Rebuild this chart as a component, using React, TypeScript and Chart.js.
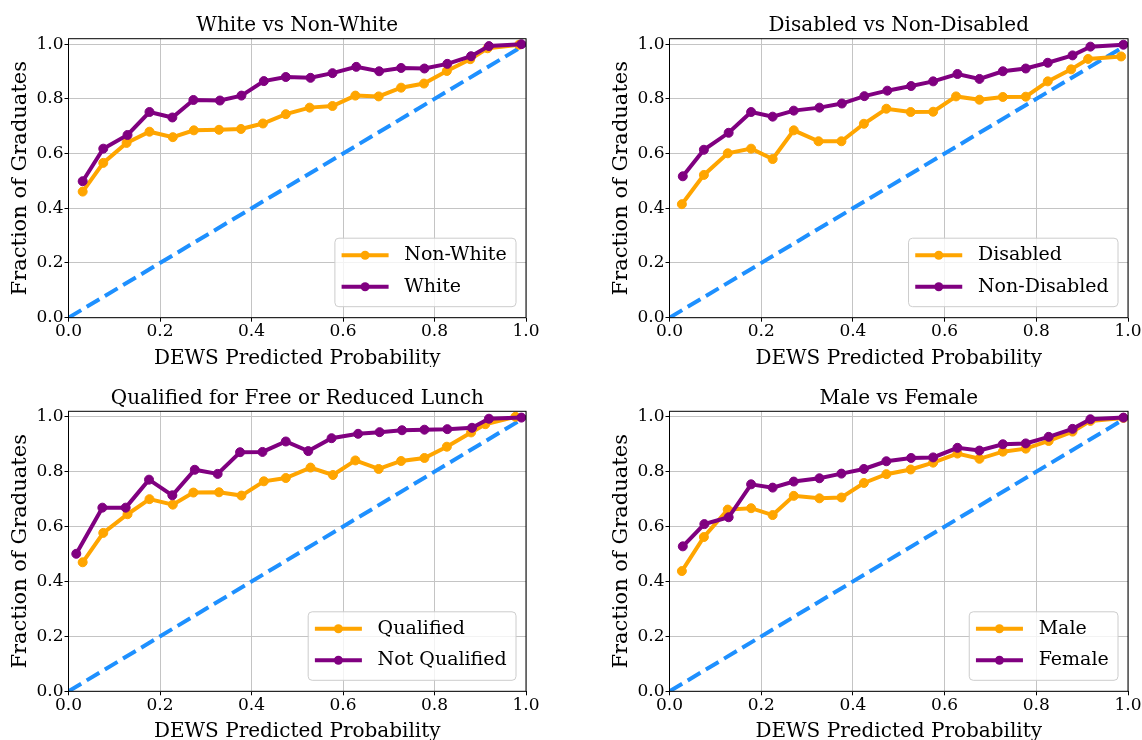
import React, { useEffect, useRef } from "react";
import { Chart, registerables } from "chart.js";

Chart.register(...registerables);

const FONT = '"DejaVu Serif", serif';
const ORANGE = "#FFA500";
const PURPLE = "#800080";
const BLUE = "#1E90FF";
const GRID = "#c4c4c4";

const X_TICKS = [0, 0.2, 0.4, 0.6, 0.8, 1.0];
const Y_TICKS = [0, 0.2, 0.4, 0.6, 0.8, 1.0];
const X_LABEL = "DEWS Predicted Probability";
const Y_LABEL = "Fraction of Graduates";
const DIAG_X = [0, 1];
const DIAG_Y = [0, 1];

// Panel 1: White vs Non-White
const nonWhiteX = [0.031, 0.076, 0.127, 0.177, 0.228, 0.274, 0.329, 0.377, 0.425, 0.475, 0.527, 0.577, 0.627, 0.678, 0.727, 0.777, 0.827, 0.878, 0.916, 0.985];
const nonWhiteY = [0.461, 0.566, 0.639, 0.68, 0.66, 0.685, 0.687, 0.69, 0.71, 0.744, 0.768, 0.774, 0.812, 0.809, 0.841, 0.856, 0.902, 0.945, 0.985, 0.998];
const whiteX = [0.031, 0.076, 0.129, 0.177, 0.227, 0.273, 0.331, 0.378, 0.427, 0.475, 0.529, 0.577, 0.629, 0.679, 0.727, 0.778, 0.828, 0.88, 0.919, 0.99];
const whiteY = [0.499, 0.618, 0.668, 0.752, 0.732, 0.796, 0.794, 0.812, 0.865, 0.88, 0.877, 0.894, 0.917, 0.901, 0.913, 0.911, 0.928, 0.956, 0.993, 1.0];

// Panel 2: Disabled vs Non-Disabled
const disabledX = [0.027, 0.075, 0.127, 0.178, 0.225, 0.271, 0.325, 0.375, 0.424, 0.473, 0.526, 0.575, 0.625, 0.676, 0.727, 0.777, 0.825, 0.876, 0.913, 0.985];
const disabledY = [0.415, 0.522, 0.601, 0.618, 0.58, 0.685, 0.645, 0.645, 0.709, 0.764, 0.752, 0.753, 0.809, 0.797, 0.807, 0.808, 0.864, 0.908, 0.946, 0.955];
const nonDisabledX = [0.029, 0.075, 0.129, 0.178, 0.225, 0.271, 0.327, 0.376, 0.425, 0.475, 0.527, 0.575, 0.628, 0.676, 0.727, 0.777, 0.825, 0.879, 0.918, 0.99];
const nonDisabledY = [0.517, 0.614, 0.676, 0.752, 0.735, 0.757, 0.768, 0.783, 0.81, 0.83, 0.847, 0.864, 0.891, 0.873, 0.901, 0.911, 0.932, 0.959, 0.991, 0.998];

// Panel 3: Qualified for Free or Reduced Lunch
const qualifiedX = [0.031, 0.076, 0.129, 0.177, 0.228, 0.273, 0.329, 0.378, 0.427, 0.475, 0.529, 0.578, 0.627, 0.678, 0.727, 0.778, 0.827, 0.88, 0.911, 0.977];
const qualifiedY = [0.47, 0.577, 0.645, 0.7, 0.68, 0.724, 0.725, 0.713, 0.765, 0.777, 0.815, 0.788, 0.841, 0.81, 0.839, 0.85, 0.891, 0.943, 0.973, 1.0];
const notQualifiedX = [0.017, 0.074, 0.125, 0.176, 0.227, 0.276, 0.326, 0.375, 0.424, 0.475, 0.524, 0.575, 0.633, 0.68, 0.729, 0.778, 0.828, 0.882, 0.919, 0.99];
const notQualifiedY = [0.501, 0.669, 0.669, 0.771, 0.714, 0.807, 0.792, 0.871, 0.872, 0.91, 0.875, 0.922, 0.938, 0.944, 0.951, 0.953, 0.955, 0.96, 0.993, 0.997];

// Panel 4: Male vs Female
const maleX = [0.027, 0.075, 0.127, 0.178, 0.225, 0.271, 0.327, 0.375, 0.424, 0.473, 0.526, 0.575, 0.628, 0.676, 0.727, 0.777, 0.827, 0.879, 0.918, 0.99];
const maleY = [0.438, 0.562, 0.662, 0.667, 0.642, 0.712, 0.703, 0.706, 0.759, 0.791, 0.808, 0.833, 0.866, 0.847, 0.873, 0.884, 0.912, 0.946, 0.985, 0.996];
const femaleX = [0.029, 0.076, 0.129, 0.178, 0.225, 0.271, 0.327, 0.375, 0.424, 0.473, 0.527, 0.575, 0.628, 0.676, 0.727, 0.777, 0.827, 0.879, 0.918, 0.99];
const femaleY = [0.528, 0.609, 0.634, 0.754, 0.742, 0.764, 0.776, 0.793, 0.81, 0.838, 0.85, 0.852, 0.887, 0.877, 0.9, 0.903, 0.927, 0.956, 0.991, 0.997];

type Series = { label: string; x: number[]; y: number[]; color: string };
type PanelCfg = {
  title: string;
  series: Series[];
  left: number;
  top: number;
  boxW: number;
  boxH: number;
  canvasW: number;
  canvasH: number;
  padRight: number;
  titleTop: number;
  xAxisH: number;
};

const LEFT_COL = { left: 0, boxW: 571, canvasW: 571, padRight: 45 };
const RIGHT_COL = { left: 601, boxW: 541, canvasW: 560, padRight: 33 };
const TOP_ROW = { top: 0, boxH: 367, canvasH: 380, titleTop: 14.2, xAxisH: 62.3 };
const BOTTOM_ROW = { top: 367, boxH: 373, canvasH: 386, titleTop: 19.8, xAxisH: 61.7 };

const PANELS: PanelCfg[] = [
  {
    title: "White vs Non-White",
    series: [
      { label: "Non-White", x: nonWhiteX, y: nonWhiteY, color: ORANGE },
      { label: "White", x: whiteX, y: whiteY, color: PURPLE },
    ],
    ...LEFT_COL,
    ...TOP_ROW,
  },
  {
    title: "Disabled vs Non-Disabled",
    series: [
      { label: "Disabled", x: disabledX, y: disabledY, color: ORANGE },
      { label: "Non-Disabled", x: nonDisabledX, y: nonDisabledY, color: PURPLE },
    ],
    ...RIGHT_COL,
    ...TOP_ROW,
  },
  {
    title: "Qualified for Free or Reduced Lunch",
    series: [
      { label: "Qualified", x: qualifiedX, y: qualifiedY, color: ORANGE },
      { label: "Not Qualified", x: notQualifiedX, y: notQualifiedY, color: PURPLE },
    ],
    ...LEFT_COL,
    ...BOTTOM_ROW,
  },
  {
    title: "Male vs Female",
    series: [
      { label: "Male", x: maleX, y: maleY, color: ORANGE },
      { label: "Female", x: femaleX, y: femaleY, color: PURPLE },
    ],
    ...RIGHT_COL,
    ...BOTTOM_ROW,
  },
];

const LEGEND_FONT = 19;

const framePlugin = {
  id: "frame",
  afterDatasetsDraw(chart: any) {
    const { ctx, chartArea: a } = chart;
    ctx.save();
    ctx.strokeStyle = "#000";
    ctx.lineWidth = 1;
    ctx.strokeRect(a.left, a.top, a.right - a.left, a.bottom - a.top);
    ctx.restore();
  },
};

const legendPlugin = {
  id: "boxLegend",
  afterDraw(chart: any) {
    const { ctx, chartArea: a } = chart;
    const items = chart.data.datasets.filter((d: any) => d.label);
    ctx.save();
    ctx.font = `${LEGEND_FONT}px ${FONT}`;
    const textW = Math.max(...items.map((d: any) => ctx.measureText(d.label).width));
    const padL = 6.7;
    const handle = 47;
    const gap = 15.7;
    const padR = 9.3;
    const w = padL + handle + gap + textW + padR;
    const h = 68.5;
    const x = a.right - 10 - w;
    const y = a.bottom - 11 - h;
    const r = 4;
    ctx.beginPath();
    ctx.moveTo(x + r, y);
    ctx.lineTo(x + w - r, y);
    ctx.arcTo(x + w, y, x + w, y + r, r);
    ctx.lineTo(x + w, y + h - r);
    ctx.arcTo(x + w, y + h, x + w - r, y + h, r);
    ctx.lineTo(x + r, y + h);
    ctx.arcTo(x, y + h, x, y + h - r, r);
    ctx.lineTo(x, y + r);
    ctx.arcTo(x, y, x + r, y, r);
    ctx.closePath();
    ctx.fillStyle = "rgba(255,255,255,0.8)";
    ctx.fill();
    ctx.strokeStyle = "#cccccc";
    ctx.lineWidth = 1;
    ctx.stroke();
    items.forEach((d: any, i: number) => {
      const cy = y + 17 + i * 31.5;
      ctx.beginPath();
      ctx.moveTo(x + padL, cy);
      ctx.lineTo(x + padL + handle, cy);
      ctx.strokeStyle = d.borderColor;
      ctx.lineWidth = 4;
      ctx.stroke();
      ctx.beginPath();
      ctx.arc(x + padL + handle / 2, cy, 4.5, 0, Math.PI * 2);
      ctx.fillStyle = d.borderColor;
      ctx.fill();
      ctx.fillStyle = "#000";
      ctx.textBaseline = "middle";
      ctx.textAlign = "left";
      ctx.fillText(d.label, x + padL + handle + gap, cy);
    });
    ctx.restore();
  },
};

function Panel({ p }: { p: PanelCfg }) {
  const ref = useRef<HTMLCanvasElement>(null);
  useEffect(() => {
    if (!ref.current) return;
    const datasets: any[] = p.series.map((s, i) => ({
      label: s.label,
      data: s.x.map((x, j) => ({ x, y: s.y[j] })),
      borderColor: s.color,
      backgroundColor: s.color,
      pointBackgroundColor: s.color,
      pointBorderColor: s.color,
      pointBorderWidth: 1,
      pointRadius: 4.5,
      borderWidth: 4,
      tension: 0,
      fill: false,
      order: 2 - i,
    }));
    datasets.push({
      label: "",
      data: DIAG_X.map((x, j) => ({ x, y: DIAG_Y[j] })),
      borderColor: BLUE,
      borderWidth: 4,
      borderDash: [14.8, 6.4],
      pointRadius: 0,
      tension: 0,
      fill: false,
      order: 3,
    });
    const tickCfg = (pad: number) => ({
      color: "#000",
      font: { family: FONT, size: 17 },
      padding: pad,
      maxRotation: 0,
      autoSkip: false,
      callback: (v: any) => Number(v).toFixed(1),
    });
    const gridCfg = {
      color: GRID,
      lineWidth: 1,
      tickColor: "#000",
      tickLength: 4,
      tickWidth: 1,
    };
    const chart = new Chart(ref.current, {
      type: "line",
      data: { datasets },
      plugins: [framePlugin, legendPlugin],
      options: {
        responsive: false,
        animation: false,
        devicePixelRatio: 1,
        layout: { padding: { left: 0, right: p.padRight, top: 0, bottom: 0 } },
        plugins: {
          legend: { display: false },
          tooltip: { enabled: false },
          title: {
            display: true,
            fullSize: false,
            text: p.title,
            color: "#000",
            font: { family: FONT, size: 20, weight: "normal" },
            padding: { top: p.titleTop, bottom: 0.5 },
          },
        },
        scales: {
          x: {
            type: "linear",
            min: 0,
            max: 1,
            afterBuildTicks: (s: any) => {
              s.ticks = X_TICKS.map((v) => ({ value: v }));
            },
            afterFit: (s: any) => {
              s.height = p.xAxisH;
            },
            ticks: tickCfg(0),
            grid: gridCfg,
            border: { display: false },
            title: {
              display: true,
              text: X_LABEL,
              color: "#000",
              font: { family: FONT, size: 20 },
              padding: { top: 0, bottom: 8.9 },
            },
          },
          y: {
            type: "linear",
            min: 0,
            max: 1.02,
            afterBuildTicks: (s: any) => {
              s.ticks = Y_TICKS.map((v) => ({ value: v }));
            },
            afterFit: (s: any) => {
              s.width = 68.5;
            },
            ticks: tickCfg(1),
            grid: gridCfg,
            border: { display: false },
            title: {
              display: true,
              text: Y_LABEL,
              color: "#000",
              font: { family: FONT, size: 21 },
              padding: { top: 7.9, bottom: 0 },
            },
          },
        },
      } as any,
    });
    return () => chart.destroy();
  }, [p]);
  return (
    <div
      style={{
        position: "absolute",
        left: p.left,
        top: p.top,
        width: p.boxW,
        height: p.boxH,
        overflow: "hidden",
      }}
    >
      <canvas ref={ref} width={p.canvasW} height={p.canvasH} style={{ display: "block" }} />
    </div>
  );
}

export default function App() {
  return (
    <div
      style={{
        position: "fixed",
        left: 0,
        top: 0,
        width: 1142,
        height: 740,
        background: "#fff",
        overflow: "hidden",
      }}
    >
      {PANELS.map((p) => (
        <Panel key={p.title} p={p} />
      ))}
    </div>
  );
}
